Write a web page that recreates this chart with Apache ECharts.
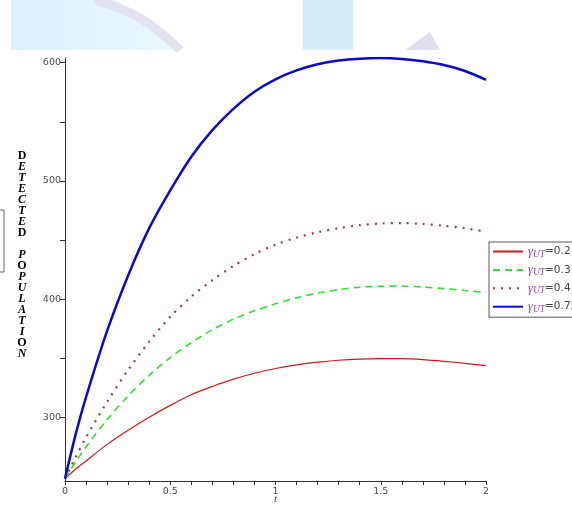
<!DOCTYPE html>
<html><head><meta charset="utf-8">
<script src="https://cdn.jsdelivr.net/npm/echarts@6/dist/echarts.min.js"></script>
<style>html,body{margin:0;padding:0;background:#fff}#c{width:572px;height:506px}</style>
</head><body><div id="c"></div>
<script>
const tValues  = [0, 0.05, 0.1, 0.2, 0.3, 0.4, 0.5, 0.6, 0.7, 0.8, 0.9, 1.0, 1.1, 1.2, 1.3, 1.4, 1.5, 1.6, 1.7, 1.8, 1.9, 2.0];
const red02    = [248, 256, 263, 277, 289, 300, 310, 319, 326, 332.2, 337.2, 341.2, 344.3, 346.6, 348.2, 349.2, 349.6, 349.5, 348.7, 347.3, 345.6, 343.6];
const green03  = [248, 262, 275, 298, 318, 335.5, 350.5, 363, 374, 383, 390, 396, 401, 405, 408, 410, 410.8, 411, 410.2, 408.8, 407.2, 405.5];
const dotted04 = [248, 266, 283, 313, 340, 364, 385, 402, 416, 428, 438, 446, 452, 456.5, 460, 462.5, 464, 464.3, 463.5, 462, 460, 457];
const blue075  = [248, 285, 317, 373, 420, 460, 492, 520.5, 543, 561, 575.5, 586, 593.5, 598.7, 601.8, 603.4, 603.9, 603.2, 601.2, 598, 593, 585.5];
const gammaLabels = ['0.2', '0.3', '0.4', '0.75'];
const xTickLabels = [0, 0.5, 1, 1.5, 2];
const yTickLabels = [300, 400, 500, 600];
const yTickMarks  = [300, 350, 400, 450, 500, 550, 600];
const yTitle = 'DETECTED POPULATION';
const uprightLetters = 'DO';

const pairs = arr => tValues.map((t, i) => [t, arr[i]]);
const seriesNames = gammaLabels.map(g => 'γUT=' + g);

const lines = [];
for (const ch of yTitle) {
  if (ch === ' ') { lines.push('{b| }'); continue; }
  lines.push((uprightLetters.includes(ch) ? '{b|' : '{i|') + ch + '}');
}
const titleRich = lines.join('\n');

const chart = echarts.init(document.getElementById('c'), null, {renderer: 'canvas'});
const axisFont = {fontFamily: 'DejaVu Sans', fontSize: 9.5, color: '#4a4a4a'};
chart.setOption({
  animation: false,
  backgroundColor: '#fff',
  grid: {left: 65, right: 86, top: 58, bottom: 25, outerBoundsMode: 'none', containLabel: false},
  xAxis: {
    type: 'value', min: 0, max: 2, interval: 0.1,
    name: 't', nameLocation: 'middle', nameGap: 13, nameMoveOverlap: false,
    nameTextStyle: {fontFamily: 'Liberation Serif', fontStyle: 'italic', fontSize: 11, color: '#444'},
    axisLine: {show: true, lineStyle: {color: '#333', width: 1}},
    axisTick: {show: true, length: 4, lineStyle: {color: '#333'}},
    axisLabel: Object.assign({margin: 6, showMinLabel: true, showMaxLabel: true,
      formatter: v => {
        const hit = xTickLabels.find(x => Math.abs(x - v) < 1e-6);
        return hit === undefined ? '' : String(hit);
      }}, axisFont),
    splitLine: {show: false}
  },
  yAxis: {
    type: 'value', min: 246, max: 604,
    axisLine: {show: true, lineStyle: {color: '#333', width: 1}},
    axisTick: {show: true, length: 5, customValues: yTickMarks, lineStyle: {color: '#333'}},
    axisLabel: Object.assign({margin: 4, customValues: yTickLabels}, axisFont),
    splitLine: {show: false}
  },
  legend: {
    orient: 'vertical', left: 489, top: 242,
    padding: [3, 60, 3, 3], itemGap: 4.4, itemWidth: 30, itemHeight: 14,
    borderColor: '#555', borderWidth: 1, backgroundColor: '#fff',
    itemStyle: {opacity: 0},
    data: seriesNames,
    formatter: n => '{g|γ}{s|UT}{v|=' + n.split('=')[1] + '}',
    textStyle: {
      rich: {
        g: {fontFamily: 'Liberation Serif', fontStyle: 'italic', fontSize: 12.5, color: '#9b3fb5'},
        s: {fontFamily: 'Liberation Serif', fontStyle: 'italic', fontSize: 9.5, color: '#9b3fb5', padding: [5, 0, 0, 0]},
        v: {fontFamily: 'DejaVu Sans', fontSize: 10.5, color: '#444'}
      }
    }
  },
  graphic: [
    {type: 'polygon', silent: true, z: -10, shape: {points: [[11,0],[115,0],[150,22],[172,50],[11,50]]},
      style: {fill: new echarts.graphic.LinearGradient(0, 0, 1, 0, [{offset: 0, color: '#daf1fa'}, {offset: 1, color: '#eaf6fc'}])}},
    {type: 'polyline', silent: true, z: -9, shape: {points: [[95,0],[140,18],[180,50]], smooth: 0.4},
      style: {stroke: '#e3e3ef', lineWidth: 9, fill: null}},
    {type: 'rect', silent: true, z: -10, shape: {x: 303, y: 0, width: 50, height: 50}, style: {fill: '#d4edf8'}},
    {type: 'polygon', silent: true, z: -10, shape: {points: [[405,50],[430,32],[440,50]]}, style: {fill: '#e0e0ec'}},
    {type: 'rect', silent: true, shape: {x: -10, y: 210, width: 14, height: 62}, style: {fill: null, stroke: '#666', lineWidth: 1}},
    {type: 'text', silent: true, left: 15, top: 150,
      style: {text: titleRich, align: 'center',
        rich: {
          b: {fontFamily: 'Liberation Serif', fontWeight: 'bold', fontSize: 12, lineHeight: 11, color: '#111', align: 'center', width: 14},
          i: {fontFamily: 'Liberation Serif', fontWeight: 'bold', fontStyle: 'italic', fontSize: 12, lineHeight: 11, color: '#111', align: 'center', width: 14}
        }}}
  ],
  series: [
    {name: seriesNames[0], type: 'line', data: pairs(red02), symbol: 'none', smooth: 0.3,
      lineStyle: {color: '#cc1a1a', width: 1.2}, itemStyle: {color: '#cc1a1a'}},
    {name: seriesNames[1], type: 'line', data: pairs(green03), symbol: 'none', smooth: 0.3,
      lineStyle: {color: '#33dd33', width: 1.6, type: [7, 5]}, itemStyle: {color: '#33dd33'}},
    {name: seriesNames[2], type: 'line', data: pairs(dotted04), symbol: 'none', smooth: 0.3,
      lineStyle: {color: '#b03838', width: 2.2, type: [2, 6]}, itemStyle: {color: '#b03838'}},
    {name: seriesNames[3], type: 'line', data: pairs(blue075), symbol: 'none', smooth: 0.3,
      lineStyle: {color: '#0a0ac8', width: 2.5}, itemStyle: {color: '#0a0ac8'}}
  ]
});
</script>
</body></html>
